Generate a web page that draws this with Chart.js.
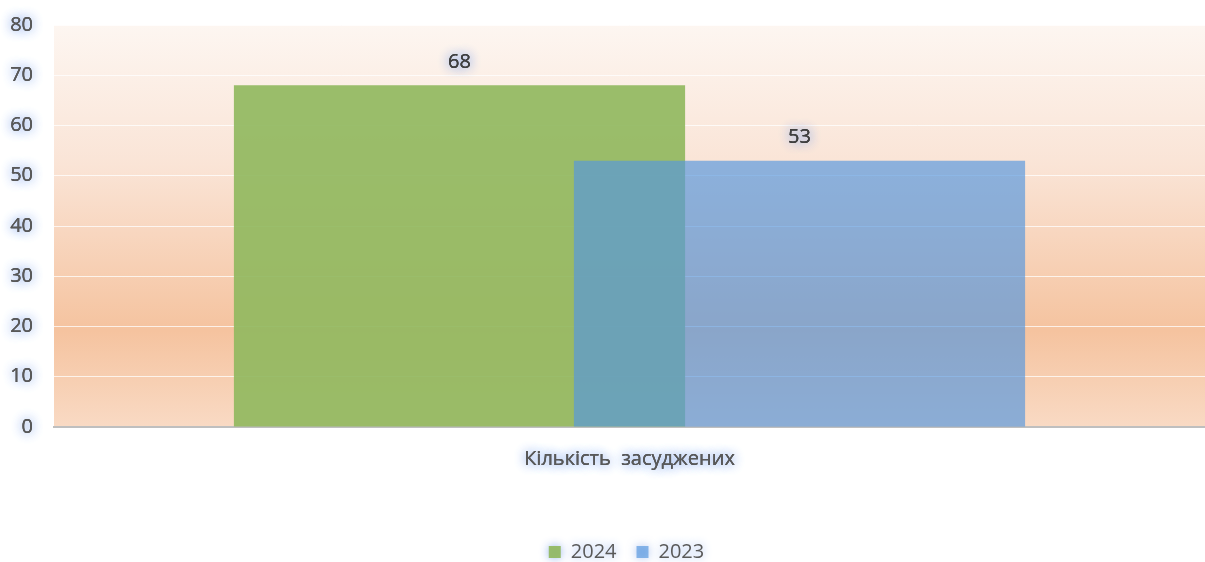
<!DOCTYPE html>
<html>
<head>
<meta charset="utf-8">
<script src="https://cdn.jsdelivr.net/npm/chart.js@4"></script>
<style>
  body { margin: 0; background: #fff; }
  canvas { display: block; }
</style>
</head>
<body>
<canvas id="chart" width="1205" height="562"></canvas>
<script>
const categories = ['Кількість  засуджених'];
const years = ['2024', '2023'];
const values2024 = [68];
const values2023 = [53];
const yTicks = [0, 10, 20, 30, 40, 50, 60, 70, 80];

const GLOW = 'rgba(140, 172, 235, 1)';
const TEXT = '#595959';
const FONT = { family: 'Open Sans', size: 20 };

// chart area gradient + glowing texts
const decorPlugin = {
    id: 'decor',
    afterLayout(chart) {
        // legend sits a little right of the canvas centre
        chart.legend.left += 24;
        chart.legend.right += 24;
    },
    beforeDraw(chart) {
        const { ctx, chartArea: a } = chart;
        const g = ctx.createLinearGradient(0, a.top, 0, a.bottom);
        g.addColorStop(0, '#fdf6f1');
        g.addColorStop(0.35, '#fae4d6');
        g.addColorStop(0.76, '#f5c39f');
        g.addColorStop(1, '#f9dac4');
        ctx.save();
        ctx.fillStyle = g;
        ctx.fillRect(a.left, a.top, a.right - a.left, a.bottom - a.top);
        ctx.restore();

        // wrap label drawing of scales and legend with a glow
        Object.values(chart.scales).forEach(scale => {
            if (scale._glow) return;
            const orig = scale.drawLabels.bind(scale);
            scale.drawLabels = function (area) {
                this.ctx.save();
                this.ctx.shadowColor = GLOW;
                this.ctx.shadowBlur = 12;
                orig(area);
                orig(area);
                this.ctx.shadowBlur = 0;
                orig(area);
                this.ctx.restore();
            };
            scale._glow = true;
        });
        if (chart.legend && !chart.legend._glow) {
            const origL = chart.legend.draw.bind(chart.legend);
            chart.legend.draw = function () {
                this.ctx.save();
                this.ctx.shadowColor = GLOW;
                this.ctx.shadowBlur = 10;
                origL();
                this.ctx.restore();
            };
            chart.legend._glow = true;
        }
    },
    // draw 2023 on top of 2024
    beforeDatasetDraw(chart, args) {
        if (args.index === 1) return false;
    },
    afterDatasetsDraw(chart) {
        const ctx = chart.ctx;
        chart.getDatasetMeta(1).controller.draw();

        // value labels
        ctx.save();
        ctx.font = '20px "Open Sans"';
        ctx.textAlign = 'center';
        ctx.textBaseline = 'middle';
        chart.data.datasets.forEach((ds, i) => {
            chart.getDatasetMeta(i).data.forEach((bar, j) => {
                ctx.shadowColor = GLOW;
                ctx.shadowBlur = 12;
                ctx.fillStyle = '#404040';
                ctx.fillText(ds.data[j], bar.x, bar.y - 23);
                ctx.fillText(ds.data[j], bar.x, bar.y - 23);
                ctx.shadowBlur = 0;
                ctx.fillText(ds.data[j], bar.x, bar.y - 23);
            });
        });
        ctx.restore();
    }
};

new Chart(document.getElementById('chart'), {
    type: 'bar',
    data: {
        labels: categories,
        datasets: [{
            label: years[0],
            data: values2024,
            backgroundColor: 'rgba(145, 185, 95, 0.92)'
        }, {
            label: years[1],
            data: values2023,
            backgroundColor: 'rgba(85, 151, 222, 0.67)'
        }]
    },
    options: {
        responsive: false,
        animation: false,
        categoryPercentage: 0.5908,
        barPercentage: 1.327,
        layout: { padding: { top: 25, left: 0, right: 0, bottom: -10 } },
        scales: {
            x: {
                grid: { display: false, drawTicks: false },
                border: { display: true, color: '#bfbfbf', width: 2 },
                ticks: { color: TEXT, font: FONT, padding: 20 },
                afterFit: (scale) => { scale.height = 95; }
            },
            y: {
                min: 0,
                max: 80,
                afterBuildTicks: (scale) => { scale.ticks = yTicks.map(v => ({ value: v })); },
                grid: { color: 'rgba(255, 255, 255, 0.75)', lineWidth: 1, drawTicks: false },
                border: { display: false },
                ticks: { color: TEXT, font: FONT, padding: 21 },
                afterFit: (scale) => {
                    scale.width = 54;
                    scale.paddingTop = 0;
                    scale.paddingBottom = 0;
                }
            }
        },
        plugins: {
            legend: {
                position: 'bottom',
                labels: {
                    color: TEXT,
                    font: FONT,
                    boxWidth: 12,
                    boxHeight: 12,
                    padding: 20
                }
            },
            tooltip: { enabled: false }
        }
    },
    plugins: [decorPlugin]
});
</script>
</body>
</html>
